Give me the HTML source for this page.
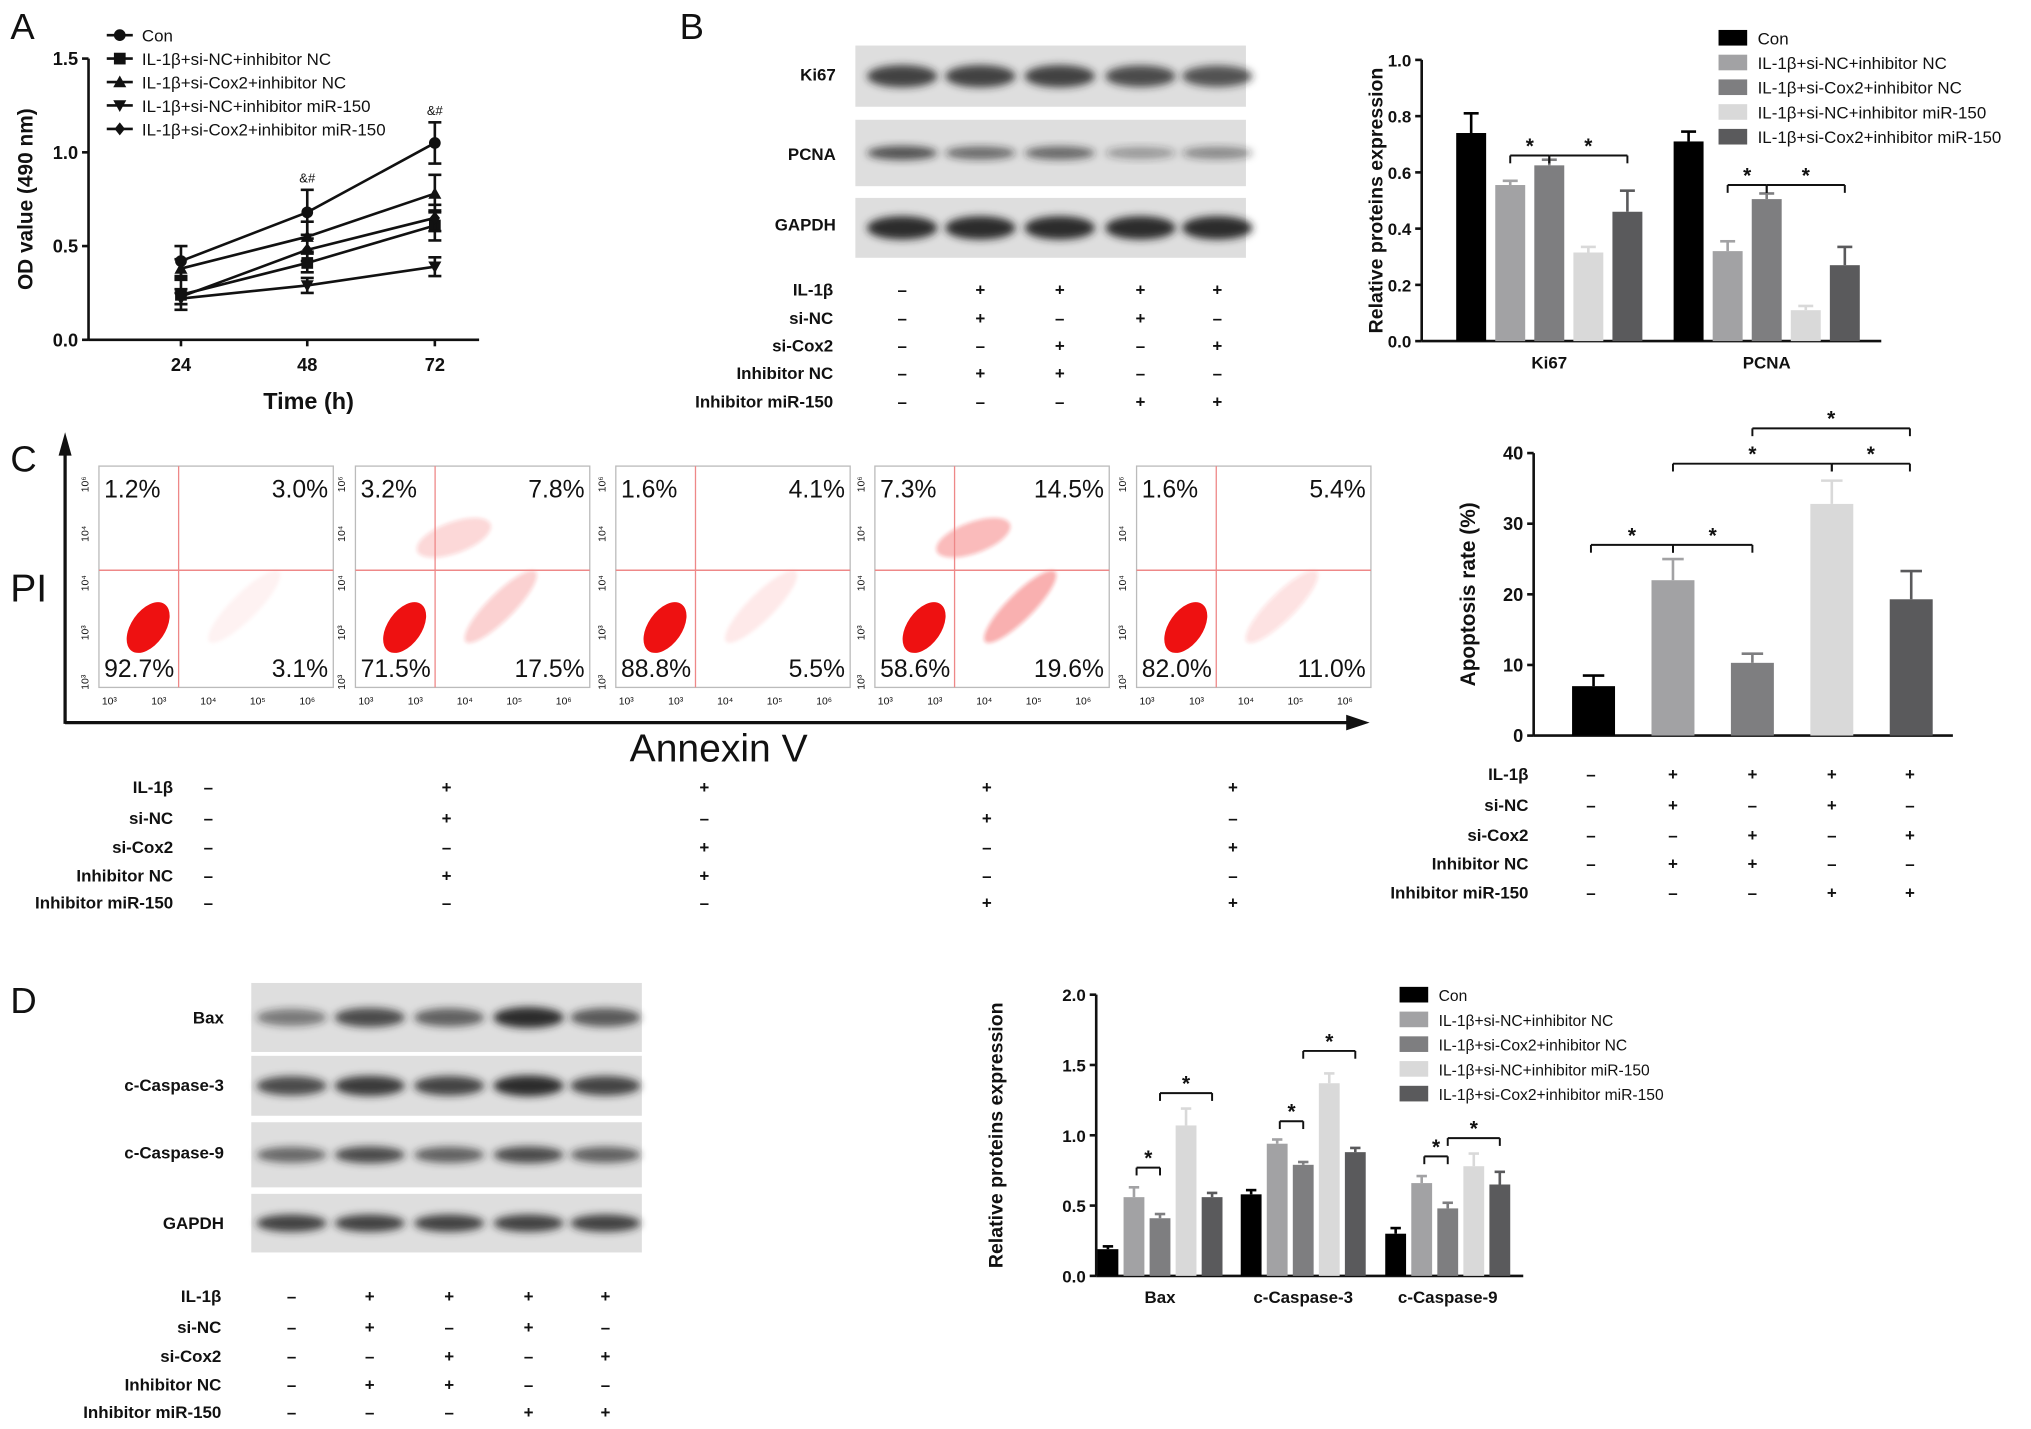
<!DOCTYPE html>
<html><head><meta charset="utf-8"><style>
html,body{margin:0;padding:0;background:#fff}
svg{display:block}
text{font-family:"Liberation Sans",Arial,sans-serif;fill:#111}
</style></head><body>
<svg id="s" width="2031" height="1429" viewBox="0 0 1560 1097.6" xmlns="http://www.w3.org/2000/svg">
<defs>
<filter id="blur" x="-20%" y="-50%" width="140%" height="200%"><feGaussianBlur stdDeviation="3"/></filter>
<filter id="blur2"><feGaussianBlur stdDeviation="1.5"/></filter>
</defs>
</svg>
<script>
// ---------- data ----------
const timePoints=[24,48,72];
const seriesNames=["Con","IL-1β+si-NC+inhibitor NC","IL-1β+si-Cox2+inhibitor NC","IL-1β+si-NC+inhibitor miR-150","IL-1β+si-Cox2+inhibitor miR-150"];
const odCon=[0.42,0.68,1.05];
const odSiNCInhNC=[0.24,0.41,0.61];
const odSiCoxInhNC=[0.38,0.55,0.78];
const odSiNCInh150=[0.22,0.29,0.39];
const odSiCoxInh150=[0.23,0.48,0.65];
const odErr=[[0.08,0.12,0.11],[0.08,0.05,0.08],[0.05,0.08,0.1],[0.03,0.04,0.05],[0.04,0.06,0.07]];
const odTicks=[0,0.5,1.0,1.5];
const bCats=["Ki67","PCNA"];
const bVals=[[0.74,0.71],[0.555,0.32],[0.625,0.505],[0.315,0.11],[0.46,0.27]];
const bErr=[[0.07,0.035],[0.015,0.035],[0.02,0.02],[0.02,0.015],[0.075,0.065]];
const bTicks=[0,0.2,0.4,0.6,0.8,1.0];
const apopVals=[7,22,10.3,32.8,19.3];
const apopErr=[1.5,3,1.3,3.3,4];
const apopTicks=[0,10,20,30,40];
const dCats=["Bax","c-Caspase-3","c-Caspase-9"];
const dVals=[[0.19,0.58,0.30],[0.56,0.94,0.66],[0.41,0.79,0.48],[1.07,1.37,0.78],[0.56,0.88,0.65]];
const dErr=[[0.02,0.03,0.04],[0.07,0.03,0.05],[0.03,0.02,0.04],[0.12,0.07,0.09],[0.03,0.03,0.09]];
const dTicks=[0,0.5,1.0,1.5,2.0];
const flowQuads=[["1.2%","3.0%","92.7%","3.1%"],["3.2%","7.8%","71.5%","17.5%"],["1.6%","4.1%","88.8%","5.5%"],["7.3%","14.5%","58.6%","19.6%"],["1.6%","5.4%","82.0%","11.0%"]];
const treatRows=["IL-1β","si-NC","si-Cox2","Inhibitor NC","Inhibitor miR-150"];
const treatSigns=[["-","+","+","+","+"],["-","+","-","+","-"],["-","-","+","-","+"],["-","+","+","-","-"],["-","-","-","+","+"]];
const colors=["#000","#a2a2a4","#7e7e80","#d9d9d9","#5a5a5c"];

const S=document.getElementById('s');
function el(tag,attrs,parent,txt){const e=document.createElementNS('http://www.w3.org/2000/svg',tag);for(const k in attrs)e.setAttribute(k,attrs[k]);if(txt!==undefined)e.textContent=txt;(parent||S).appendChild(e);return e;}
function grp(name){const g=el('g',{});return g;}
function txt(g,x,y,s,opt){opt=opt||{};const t=el('text',{x:x,y:y,'font-size':opt.fs||13,'text-anchor':opt.a||'start','font-weight':opt.w||'normal'},g,s);if(opt.rot)t.setAttribute('transform','rotate(-90 '+x+' '+y+')');if(opt.name){}return t;}
function line(g,x1,y1,x2,y2,w,c){return el('line',{x1:x1,y1:y1,x2:x2,y2:y2,stroke:c||'#111','stroke-width':w||2},g);}

// panel letters
[["A",8,30],["B",522,30],["C",8,362],["D",8,778]].forEach(p=>{const t=txt(S,p[1],p[2],p[0],{fs:28});});

// ---------- Panel A ----------
(function(){
const g=grp('line-chart-a');
const x0=68,y0=261,yScale=v=>y0-v*144;
const xPos={24:139,48:236,72:334};
const xS=t=>xPos[t];
line(g,x0,45,x0,y0,2);line(g,x0,y0,368,y0,2);
odTicks.forEach(v=>{line(g,x0-5,yScale(v),x0,yScale(v),2);txt(g,x0-8,yScale(v)+5,v.toFixed(1),{fs:14,a:'end',w:'bold'});});
timePoints.forEach(t=>{line(g,xS(t),y0,xS(t),y0+5,2);txt(g,xS(t),y0+24,String(t),{fs:14,a:'middle',w:'bold'});});
txt(g,237,314,'Time (h)',{fs:18,a:'middle',w:'bold',name:'x-axis-title'});
txt(g,25,153,'OD value (490 nm)',{fs:16,a:'middle',w:'bold',rot:1,name:'y-axis-title'});
const all=[odCon,odSiNCInhNC,odSiCoxInhNC,odSiNCInh150,odSiCoxInh150];
const markers=['circle','square','tri','tridown','diamond'];
function marker(gg,type,x,y){
 if(type==='circle')el('circle',{cx:x,cy:y,r:4.5,fill:'#111'},gg);
 else if(type==='square')el('rect',{x:x-4.5,y:y-4.5,width:9,height:9,fill:'#111'},gg);
 else if(type==='tri')el('polygon',{points:`${x},${y-5} ${x-5},${y+4} ${x+5},${y+4}`,fill:'#111'},gg);
 else if(type==='tridown')el('polygon',{points:`${x},${y+5} ${x-5},${y-4} ${x+5},${y-4}`,fill:'#111'},gg);
 else el('polygon',{points:`${x},${y-5} ${x-4},${y} ${x},${y+5} ${x+4},${y}`,fill:'#111'},gg);
}
all.forEach((s,i)=>{
 const sg=el('g',{},g);
 el('polyline',{points:s.map((v,j)=>xS(timePoints[j])+','+yScale(v)).join(' '),fill:'none',stroke:'#111','stroke-width':2},sg);
 s.forEach((v,j)=>{const x=xS(timePoints[j]),e=odErr[i][j];line(sg,x,yScale(v-e),x,yScale(v+e),2);line(sg,x-5,yScale(v+e),x+5,yScale(v+e),2);line(sg,x-5,yScale(v-e),x+5,yScale(v-e),2);marker(sg,markers[i],x,yScale(v));});
});
txt(g,236,yScale(0.84),'&#',{fs:10,a:'middle'});
txt(g,334,yScale(1.2),'&#',{fs:10,a:'middle'});
seriesNames.forEach((n,i)=>{const y=27+i*18;const lg=el('g',{},g);line(lg,82,y,102,y,2);marker(lg,markers[i],92,y);txt(lg,109,y+5,n,{fs:13});});
})();

// ---------- blots ----------
function blot(name,x,y,w,h,lanes,intens,thick){
 const g=grp(name);
 el('rect',{x:x,y:y,width:w,height:h,fill:'#dedede'},g);
 lanes.forEach((lx,i)=>{el('ellipse',{cx:lx,cy:y+h/2,rx:27,ry:thick*(0.7+0.3*intens[i]),fill:'#222','fill-opacity':0.25+0.7*intens[i],filter:'url(#blur)'},g);});
 return g;
}
const bLanes=[693,753,814,876,935];
blot('blot-ki67',657,35,300,47,bLanes,[0.85,0.85,0.85,0.75,0.7],9);
blot('blot-pcna',657,92,300,51,bLanes,[0.7,0.5,0.55,0.2,0.3],6);
blot('blot-gapdh',657,152,300,46,bLanes,[1,1,1,1,1],9);
[['Ki67',62],['PCNA',123],['GAPDH',177]].forEach(r=>txt(S,642,r[1],r[0],{fs:13,a:'end',w:'bold'}));
const dLanes=[224,284,345,406,465];
blot('blot-bax',193,755,300,53,dLanes,[0.4,0.75,0.6,1,0.65],8);
blot('blot-caspase3',193,811,300,46,dLanes,[0.75,0.9,0.8,1,0.8],8);
blot('blot-caspase9',193,862,300,50,dLanes,[0.55,0.75,0.6,0.75,0.6],7);
blot('blot-gapdh-d',193,917,300,45,dLanes,[0.85,0.85,0.85,0.85,0.85],7);
[['Bax',786],['c-Caspase-3',838],['c-Caspase-9',890],['GAPDH',944]].forEach(r=>txt(S,172,r[1],r[0],{fs:13,a:'end',w:'bold'}));

// ---------- treatment tables ----------
function table(name,labelX,rowY,cols,fs){
 const g=grp(name);
 treatRows.forEach((r,i)=>{txt(g,labelX,rowY[i]+5,r,{fs:fs,a:'end',w:'bold'});treatSigns[i].forEach((s,j)=>txt(g,cols[j],rowY[i]+5,s==='-'?'–':'+',{fs:fs,a:'middle',w:'bold'}));});
}
table('treatment-table-b',640,[222,244,265,286,308],bLanes,13);
table('treatment-table-c',133,[604,628,650,672,693],[160,343,541,758,947],13);
table('treatment-table-apoptosis',1174,[594,618,641,663,685],[1222,1285,1346,1407,1467],13);
table('treatment-table-d',170,[995,1019,1041,1063,1084],dLanes,13);

// ---------- grouped bar chart helper ----------
function bars(name,cfg){
 const g=grp(name);
 const yS=v=>cfg.y0-v*cfg.k;
 line(g,cfg.x0,yS(cfg.ticks[cfg.ticks.length-1]),cfg.x0,cfg.y0,2);
 line(g,cfg.x0,cfg.y0,cfg.xEnd,cfg.y0,2);
 cfg.ticks.forEach(v=>{line(g,cfg.x0-5,yS(v),cfg.x0,yS(v),2);txt(g,cfg.x0-8,yS(v)+5,cfg.fmt(v),{fs:cfg.fs,a:'end',w:'bold'});});
 cfg.cats.forEach((c,ci)=>{
  const cx=cfg.centers[ci];
  txt(g,cx,cfg.y0+21,c,{fs:cfg.fs,a:'middle',w:'bold'});
  cfg.vals.forEach((sv,si)=>{
   const v=sv[ci],e=cfg.err[si][ci];const bx=cx+(si-2)*cfg.sp;
   const r=el('rect',{x:bx-cfg.bw/2,y:yS(v),width:cfg.bw,height:cfg.y0-yS(v),fill:colors[si]},g);
   
   line(g,bx,yS(v),bx,yS(v+e),2,colors[si]);line(g,bx-cfg.bw/4,yS(v+e),bx+cfg.bw/4,yS(v+e),2,colors[si]);
  });
 });
 txt(g,cfg.titleX,(cfg.y0+yS(cfg.ticks[cfg.ticks.length-1]))/2,cfg.title,{fs:cfg.tfs,a:'middle',w:'bold',rot:1,name:'y-axis-title'});
 return {g:g,yS:yS};
}
function bracket(g,x1,x2,y){line(g,x1,y+6,x1,y,1.5);line(g,x1,y,x2,y,1.5);line(g,x2,y,x2,y+6,1.5);txt(g,(x1+x2)/2,y-2,'*',{fs:16,a:'middle',w:'bold'});}
function legend(g,x,y0,dy,fs){seriesNames.forEach((n,i)=>{const y=y0+i*dy;const lg=el('g',{},g);el('rect',{x:x,y:y-6,width:22,height:12,fill:colors[i]},lg);txt(lg,x+30,y+5,n,{fs:fs});});}

// panel B chart
(function(){
 const c=bars('bar-chart-b',{x0:1092,y0:262,k:216,xEnd:1445,ticks:bTicks,fmt:v=>v.toFixed(1),cats:bCats,centers:[1190,1357],vals:bVals,err:bErr,sp:30,bw:23,fs:13,title:'Relative proteins expression',titleX:1062,tfs:15});
 bracket(c.g,1160,1190,c.yS(0.66));bracket(c.g,1190,1250,c.yS(0.66));
 bracket(c.g,1327,1357,c.yS(0.555));bracket(c.g,1357,1417,c.yS(0.555));
 legend(c.g,1320,29,19,13);
})();
// apoptosis chart
(function(){
 const vals=apopVals.map(v=>[v]),err=apopErr.map(v=>[v]);
 const c=bars('bar-chart-apoptosis',{x0:1178,y0:565,k:5.425,xEnd:1500,ticks:apopTicks,fmt:v=>String(v),cats:[''],centers:[1346],vals:vals,err:err,sp:61,bw:33,fs:14,title:'Apoptosis rate (%)',titleX:1133,tfs:16});
 bracket(c.g,1222,1285,c.yS(27));bracket(c.g,1285,1346,c.yS(27));
 bracket(c.g,1285,1407,c.yS(38.5));bracket(c.g,1407,1467,c.yS(38.5));
 bracket(c.g,1346,1467,c.yS(43.5));
})();
// panel D chart
(function(){
 const c=bars('bar-chart-d',{x0:842,y0:980,k:108,xEnd:1170,ticks:dTicks,fmt:v=>v.toFixed(1),cats:dCats,centers:[891,1001,1112],vals:dVals,err:dErr,sp:20,bw:16,fs:13,title:'Relative proteins expression',titleX:770,tfs:15});
 bracket(c.g,873,891,c.yS(0.77));bracket(c.g,891,931,c.yS(1.3));
 bracket(c.g,983,1001,c.yS(1.1));bracket(c.g,1001,1041,c.yS(1.6));
 bracket(c.g,1094,1112,c.yS(0.85));bracket(c.g,1112,1152,c.yS(0.98));
 legend(c.g,1075,764,19,12);
})();

// ---------- Panel C flow ----------
(function(){
 const g=grp('flow-cytometry-c');
 const boxX=[76,273,473,672,873],bw=180,by=358,bh=170;
 el('polygon',{points:'50,332 45,350 55,350',fill:'#111'},g);line(g,50,345,50,556,2.5);
 line(g,50,555,1040,555,2.5);el('polygon',{points:'1052,555 1034,549 1034,561',fill:'#111'},g);
 txt(g,22,462,'PI',{fs:30,a:'middle',name:'y-axis-title'});
 txt(g,552,585,'Annexin V',{fs:30,a:'middle',name:'x-axis-title'});
 const spread=[0.15,0.6,0.25,1,0.4];
 boxX.forEach((x,i)=>{
  const pg=el('g',{},g);
  el('rect',{x:x,y:by,width:bw,height:bh,fill:'#fff',stroke:'#bbb','stroke-width':1},pg);
  const vx=x+bw*0.34,hy=by+80;
  el('ellipse',{cx:x+bw*0.62,cy:by+108,rx:38,ry:10,fill:'#e22','fill-opacity':0.35*spread[i],transform:`rotate(-45 ${x+bw*0.62} ${by+108})`,filter:'url(#blur2)'},pg);
  if(spread[i]>0.5)el('ellipse',{cx:x+bw*0.42,cy:by+55,rx:30,ry:12,fill:'#e22','fill-opacity':0.3*spread[i],transform:`rotate(-20 ${x+bw*0.42} ${by+55})`,filter:'url(#blur2)'},pg);
  el('ellipse',{cx:x+bw*0.21,cy:by+124,rx:22,ry:13,fill:'#ee1111',transform:`rotate(-55 ${x+bw*0.21} ${by+124})`},pg);
  line(pg,vx,by,vx,by+bh,1,'#e88');line(pg,x,hy,x+bw,hy,1.2,'#e88');
  const q=flowQuads[i];
  txt(pg,x+4,by+24,q[0],{fs:19});txt(pg,x+bw-4,by+24,q[1],{fs:19,a:'end'});
  txt(pg,x+4,by+162,q[2],{fs:19});txt(pg,x+bw-4,by+162,q[3],{fs:19,a:'end'});
  ['10³','10³','10⁴','10⁵','10⁶'].forEach((t,k)=>txt(pg,x+8+k*38,by+183,t,{fs:8,a:'middle'}));
  ['10⁶','10⁴','10⁴','10³','10³'].forEach((t,k)=>txt(pg,x-8,by+14+k*38,t,{fs:8,a:'middle',rot:1}));
 });
})();
</script>
</body></html>
